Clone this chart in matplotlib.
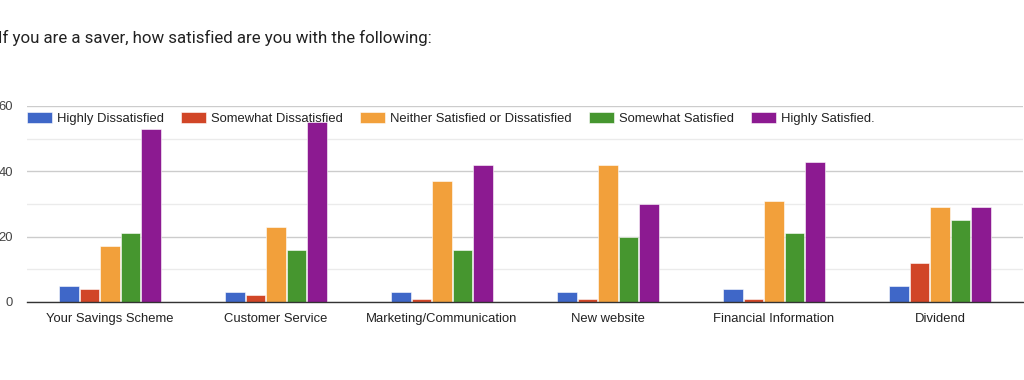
import matplotlib
matplotlib.use("Agg")
import matplotlib.pyplot as plt
import numpy as np
from matplotlib.ticker import MultipleLocator

categories = ["Your Savings Scheme", "Customer Service", "Marketing/Communication",
              "New website", "Financial Information", "Dividend"]
series_names = ["Highly Dissatisfied", "Somewhat Dissatisfied",
                "Neither Satisfied or Dissatisfied", "Somewhat Satisfied", "Highly Satisfied."]
highly_dissatisfied = [5, 3, 3, 3, 4, 5]
somewhat_dissatisfied = [4, 2, 1, 1, 1, 12]
neither = [17, 23, 37, 42, 31, 29]
somewhat_satisfied = [21, 16, 16, 20, 21, 25]
highly_satisfied = [53, 55, 42, 30, 43, 29]
series_values = [highly_dissatisfied, somewhat_dissatisfied, neither,
                 somewhat_satisfied, highly_satisfied]
colors = ["#3f67c8", "#d14627", "#f2a03b", "#46962f", "#8c1a91"]
yticks = [0, 20, 40, 60]

plt.rcParams['font.family'] = ['Liberation Sans', 'DejaVu Sans']

fig = plt.figure(figsize=(10.24, 3.8), dpi=100)
ax = fig.add_axes([27/1024, 1-302/380, 996/1024, 196/380])

x = np.arange(len(categories))
n = len(series_values)
bw = 0.124
for i, (vals, name, c) in enumerate(zip(series_values, series_names, colors)):
    offs = (i - (n-1)/2) * bw
    ax.bar(x + offs, vals, width=bw*0.95, color=c, label=name,
           edgecolor="white", linewidth=0.4, zorder=3)

ax.set_xlim(-0.5, len(categories)-0.5)
ax.set_ylim(0, 60)
ax.set_yticks(yticks)
ax.yaxis.set_minor_locator(MultipleLocator(10))
ax.grid(axis='y', which='major', color='#cccccc', linewidth=1, zorder=0)
ax.grid(axis='y', which='minor', color='#ebebeb', linewidth=1, zorder=0)
ax.set_xticks(x)
ax.set_xticklabels(categories)
ax.tick_params(axis='both', which='both', length=0, labelsize=9.4, colors='#222222')
ax.tick_params(axis='y', pad=10)
ax.tick_params(axis='x', pad=8)
for s in ['top', 'right', 'left']:
    ax.spines[s].set_visible(False)
ax.spines['bottom'].set_color('#333333')
ax.spines['bottom'].set_linewidth(1)
ax.spines['bottom'].set_zorder(4)
for lab in ax.get_yticklabels():
    lab.set_color('#444444')

leg = ax.legend(ncol=5, loc='upper left', bbox_to_anchor=(0.0, 0.97), frameon=False,
                fontsize=9.4, handlelength=1.92, handleheight=0.95, handletextpad=0.4,
                columnspacing=1.29, borderaxespad=0.0, borderpad=0.0)
for t in leg.get_texts():
    t.set_color('#222222')

fig.text(-0.002, 1-38/380, "If you are a saver, how satisfied are you with the following:",
         fontsize=12.2, color='#222222', va='center', ha='left', family=['Roboto', 'DejaVu Sans'])

fig.savefig("out.png", dpi=100)
